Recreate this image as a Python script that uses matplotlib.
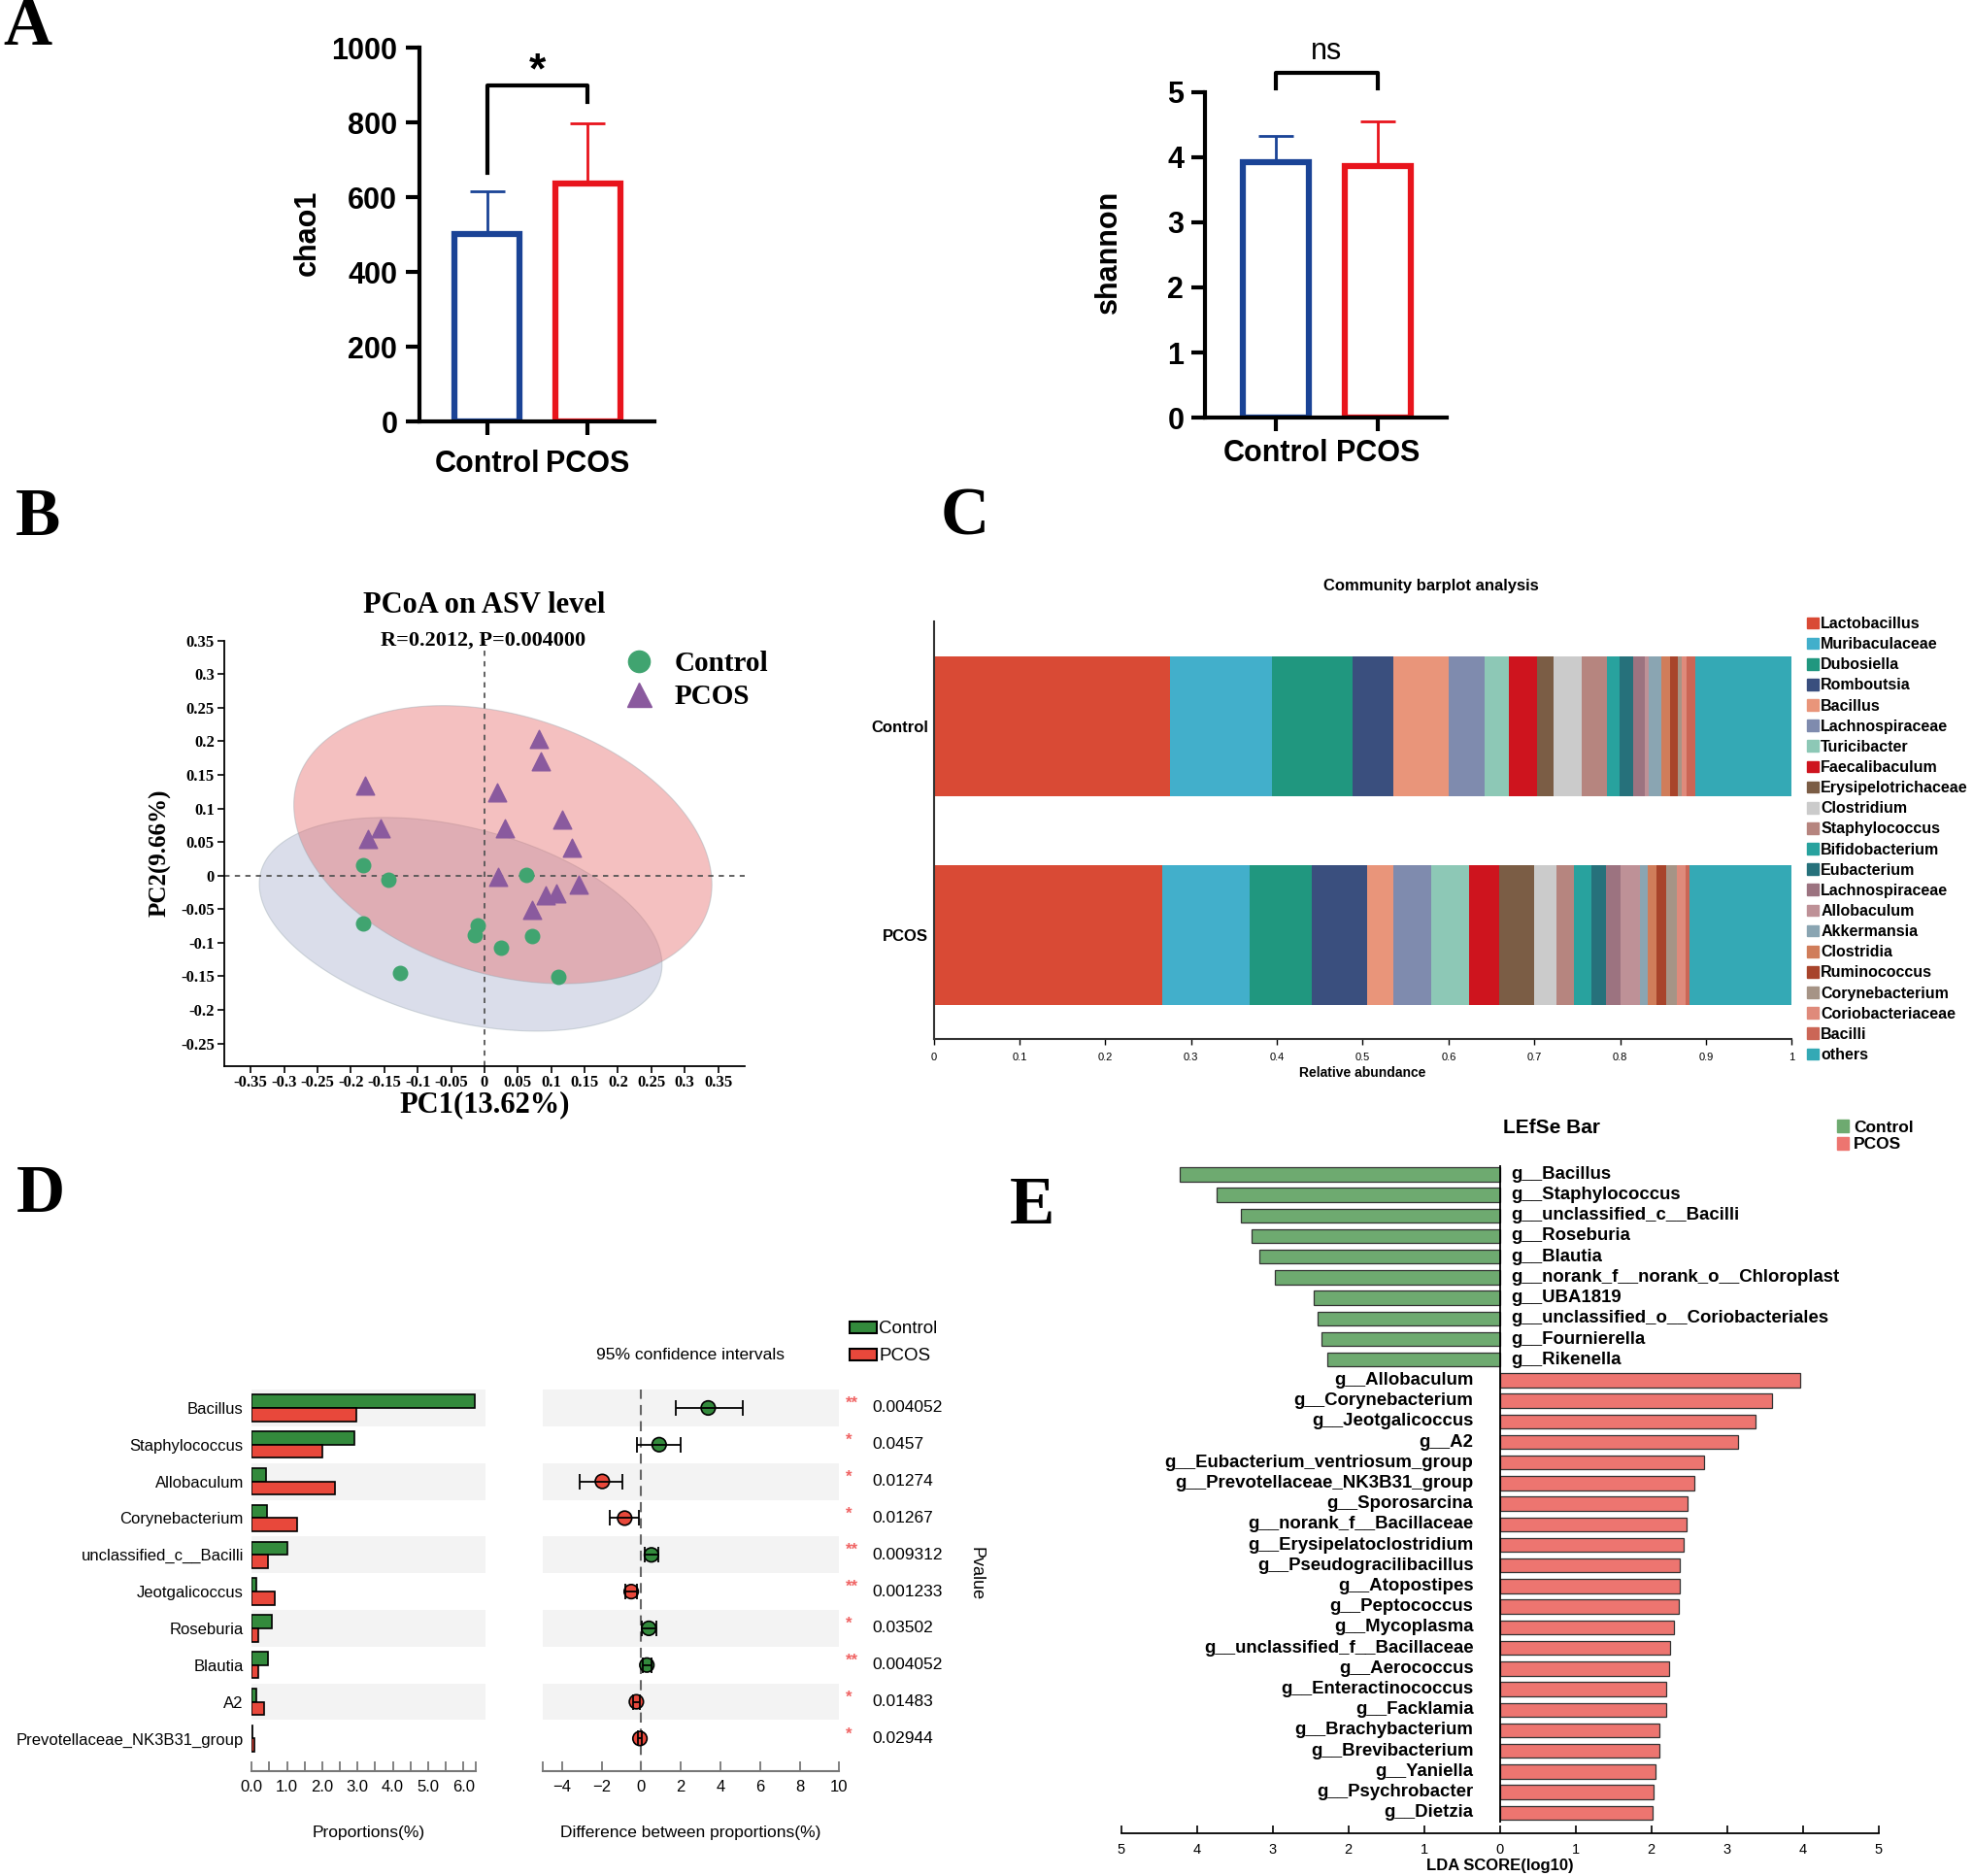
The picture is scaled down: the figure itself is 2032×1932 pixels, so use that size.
import numpy as np
import matplotlib
matplotlib.use("Agg")
import matplotlib.pyplot as plt
from matplotlib.patches import Patch
from matplotlib.lines import Line2D

SANS = ['Liberation Sans', 'DejaVu Sans']
SERIF = ['Liberation Serif', 'DejaVu Serif']
plt.rcParams['font.family'] = SANS

# ---- A: alpha diversity
groups = ["Control", "PCOS"]
group_colors = ["#1a4396", "#e8141c"]
chao1_mean = [503, 638]
chao1_err = [114, 160]
shannon_mean = [3.92, 3.86]
shannon_err = [0.41, 0.68]

# ---- B: PCoA
ctrl_pc1 = [-0.181, -0.144, -0.181, -0.126, -0.010, -0.014, 0.025, 0.062, 0.072, 0.110]
ctrl_pc2 = [0.016, -0.006, -0.071, -0.145, -0.074, -0.089, -0.107, 0.001, -0.090, -0.151]
pcos_pc1 = [-0.179, -0.155, -0.174, 0.082, 0.085, 0.019, 0.030, 0.116, 0.131, 0.021, 0.141, 0.091, 0.107, 0.072]
pcos_pc2 = [0.134, 0.070, 0.055, 0.203, 0.170, 0.124, 0.070, 0.084, 0.041, -0.002, -0.014, -0.030, -0.027, -0.051]
# ellipse: centre x, centre y, half width, y offset at right end, half height
ctrl_ellipse = [-0.0356, -0.0725, 0.3015, -0.060, 0.159]
pcos_ellipse = [0.0276, 0.046, 0.313, -0.0593, 0.207]

# ---- C: community barplot
genus = ["Lactobacillus", "Muribaculaceae", "Dubosiella", "Romboutsia", "Bacillus",
         "Lachnospiraceae", "Turicibacter", "Faecalibaculum", "Erysipelotrichaceae",
         "Clostridium", "Staphylococcus", "Bifidobacterium", "Eubacterium",
         "Lachnospiraceae", "Allobaculum", "Akkermansia", "Clostridia", "Ruminococcus",
         "Corynebacterium", "Coriobacteriaceae", "Bacilli", "others"]
genus_colors = ["#d94a35", "#42afcb", "#20977f", "#3a4f7e", "#e9957a", "#7f8bae",
                "#8dc8b6", "#ce141e", "#7b5d45", "#cbcbcb", "#b6857f", "#28a29e",
                "#26717b", "#9c7380", "#be9197", "#8aa5b2", "#d07d5a", "#a8442b",
                "#a69486", "#df8a7b", "#cb6656", "#34a9b5"]
abund_ctrl = [0.2759, 0.1185, 0.0941, 0.0475, 0.0636, 0.0422, 0.0282, 0.0326, 0.0203,
              0.0319, 0.0293, 0.0157, 0.0158, 0.0135, 0.0045, 0.0139, 0.0105, 0.0097,
              0.0042, 0.0060, 0.0097, 0.1124]
abund_pcos = [0.2663, 0.1023, 0.0721, 0.0648, 0.0301, 0.0441, 0.0437, 0.0358, 0.0408,
              0.0263, 0.0199, 0.0206, 0.0165, 0.0173, 0.0229, 0.0082, 0.0109, 0.0109,
              0.0127, 0.0105, 0.0045, 0.1188]

# ---- D: STAMP
stamp_taxa = ["Bacillus", "Staphylococcus", "Allobaculum", "Corynebacterium",
              "unclassified_c__Bacilli", "Jeotgalicoccus", "Roseburia", "Blautia", "A2",
              "Prevotellaceae_NK3B31_group"]
stamp_ctrl = [6.33, 2.90, 0.40, 0.43, 1.01, 0.14, 0.58, 0.47, 0.13, 0.02]
stamp_pcos = [2.97, 1.99, 2.35, 1.28, 0.47, 0.65, 0.19, 0.19, 0.35, 0.09]
stamp_diff = [3.38, 0.90, -1.97, -0.84, 0.51, -0.51, 0.38, 0.28, -0.25, -0.07]
ci_low = [1.74, -0.20, -3.13, -1.57, 0.18, -0.80, 0.02, 0.05, -0.44, -0.16]
ci_high = [5.11, 2.00, -0.97, -0.10, 0.84, -0.21, 0.77, 0.51, -0.08, 0.01]
stamp_p = ["0.004052", "0.0457", "0.01274", "0.01267", "0.009312", "0.001233",
           "0.03502", "0.004052", "0.01483", "0.02944"]
stamp_sig = ["**", "*", "*", "*", "**", "**", "*", "**", "*", "*"]
stamp_max = 6.34

# ---- E: LEfSe
lefse_ctrl = ["g__Bacillus", "g__Staphylococcus", "g__unclassified_c__Bacilli",
              "g__Roseburia", "g__Blautia", "g__norank_f__norank_o__Chloroplast",
              "g__UBA1819", "g__unclassified_o__Coriobacteriales", "g__Fournierella",
              "g__Rikenella"]
lda_ctrl = [4.23, 3.74, 3.42, 3.28, 3.17, 2.97, 2.46, 2.41, 2.35, 2.28]
lefse_pcos = ["g__Allobaculum", "g__Corynebacterium", "g__Jeotgalicoccus", "g__A2",
              "g__Eubacterium_ventriosum_group", "g__Prevotellaceae_NK3B31_group",
              "g__Sporosarcina", "g__norank_f__Bacillaceae", "g__Erysipelatoclostridium",
              "g__Pseudogracilibacillus", "g__Atopostipes", "g__Peptococcus",
              "g__Mycoplasma", "g__unclassified_f__Bacillaceae", "g__Aerococcus",
              "g__Enteractinococcus", "g__Facklamia", "g__Brachybacterium",
              "g__Brevibacterium", "g__Yaniella", "g__Psychrobacter", "g__Dietzia"]
lda_pcos = [3.97, 3.59, 3.37, 3.14, 2.69, 2.57, 2.48, 2.47, 2.43, 2.38, 2.38, 2.36,
            2.30, 2.25, 2.23, 2.19, 2.19, 2.11, 2.10, 2.05, 2.03, 2.02]

W, H = 1568, 1491  # layout measured on a 1568x1491 view


def box(x0, y0, x1, y1):
    return [x0 / W, 1 - y1 / H, (x1 - x0) / W, (y1 - y0) / H]


def fmt(v):
    return "0" if abs(v) < 1e-9 else f"{v:g}"


fig = plt.figure(figsize=(20.32, 19.32), dpi=100)

# panel letters
for letter, (lx, ly) in zip("ABCDE", [(22, 22), (30, 412), (767, 412), (32, 950), (820, 959)]):
    fig.text(lx / W, 1 - ly / H, letter, family=SERIF, weight='bold', fontsize=50,
             ha='center', va='center')


def bar_panel(ax, means, errs, yticks, ylabel, lab_xy, xlim, xpad):
    for i in range(2):
        ax.errorbar(i, means[i], yerr=[[0], [errs[i]]], color=group_colors[i], lw=2,
                    capsize=13, capthick=2, zorder=1)
        ax.bar(i, means[i], width=0.64, facecolor='white', edgecolor=group_colors[i],
               lw=4.5, zorder=2)
    ax.set_xlim(xlim)
    ax.set_ylim(yticks[0], yticks[-1])
    ax.set_yticks(yticks, [str(v) for v in yticks], fontsize=22, fontweight='bold')
    ax.set_xticks([0, 1], groups, fontsize=22, fontweight='bold')
    ax.spines[['top', 'right']].set_visible(False)
    ax.spines[['left', 'bottom']].set_linewidth(3)
    ax.tick_params(width=3, length=10, pad=6)
    ax.tick_params(axis='x', pad=xpad)
    ax.set_ylabel(ylabel, fontsize=22, fontweight='bold')
    ax.yaxis.set_label_coords(*lab_xy)


axA1 = fig.add_axes(box(333, 38, 520, 335))
bar_panel(axA1, chao1_mean, chao1_err, [0, 200, 400, 600, 800, 1000], "chao1",
          (-0.41, 0.505), (-0.675, 1.66), 11)
axA1.plot([0, 0, 1, 1], [665, 899, 899, 856], color='black', lw=3, clip_on=False)
axA1.text(0.5, 935, "*", fontsize=32, fontweight='bold', ha='center', va='center')

axA2 = fig.add_axes(box(958, 73, 1150, 332))
bar_panel(axA2, shannon_mean, shannon_err, [0, 1, 2, 3, 4, 5], "shannon",
          (-0.34, 0.51), (-0.69, 1.68), 6)
axA2.plot([0, 0, 1, 1], [5.05, 5.29, 5.29, 5.05], color='black', lw=3, clip_on=False)
axA2.text(0.5, 5.62, "ns", fontsize=22, ha='center', va='center')

# ---- B
axB = fig.add_axes(box(178, 509, 592, 847))
t = np.linspace(0, 2 * np.pi, 300)
for ell, col in [(ctrl_ellipse, '#a9b0cd'), (pcos_ellipse, '#e66b6b')]:
    cx, cy, xe, r, ye = ell
    ex = cx + xe * np.cos(t)
    ey = cy + r * np.cos(t) + np.sqrt(ye ** 2 - r ** 2) * np.sin(t)
    axB.fill(ex, ey, facecolor=col, alpha=0.42, edgecolor='#9aa8b0', lw=0.8)
axB.axhline(0, color='#555555', lw=1.3, ls=(0, (3, 3)))
axB.axvline(0, color='#555555', lw=1.3, ls=(0, (3, 3)))
axB.scatter(ctrl_pc1, ctrl_pc2, s=110, marker='o', color='#40a470', zorder=3)
axB.scatter(pcos_pc1, pcos_pc2, s=180, marker='^', color='#8a5a9e', zorder=3)
axB.set_xlim(-0.39, 0.39)
axB.set_ylim(-0.283, 0.35)
xt = np.round(np.arange(-0.35, 0.351, 0.05), 2)
yt = np.round(np.arange(-0.25, 0.351, 0.05), 2)
axB.set_xticks(xt, [fmt(v) for v in xt], family=SERIF, fontweight='bold', fontsize=12)
axB.set_yticks(yt, [fmt(v) for v in yt], family=SERIF, fontweight='bold', fontsize=12)
axB.tick_params(length=5, width=1.2, pad=2)
axB.spines[['top', 'right']].set_visible(False)
axB.spines[['left', 'bottom']].set_linewidth(1.3)
axB.set_xlabel("PC1(13.62%)", family=SERIF, fontweight='bold', fontsize=22, labelpad=0)
axB.set_ylabel("PC2(9.66%)", family=SERIF, fontweight='bold', fontsize=18, labelpad=7)
axB.text(0.5, 1.083, "PCoA on ASV level", transform=axB.transAxes, family=SERIF,
         fontweight='bold', fontsize=22, ha='center', va='center')
axB.text(0.498, 1.0, "R=0.2012, P=0.004000", transform=axB.transAxes, family=SERIF,
         fontweight='bold', fontsize=16, ha='center', va='center')
hB = [Line2D([], [], ls='', marker='o', ms=16, color='#40a470'),
      Line2D([], [], ls='', marker='^', ms=18, color='#8a5a9e')]
axB.legend(hB, groups, loc='upper left', bbox_to_anchor=(0.756, 0.975), frameon=False,
           prop={'family': SERIF, 'weight': 'bold', 'size': 21}, handlelength=1.5,
           handletextpad=0.5, labelspacing=0.24, borderaxespad=0, borderpad=0)

# ---- C
axC = fig.add_axes(box(742, 494, 1424, 826))
left_c = np.concatenate([[0], np.cumsum(abund_ctrl)[:-1]])
left_p = np.concatenate([[0], np.cumsum(abund_pcos)[:-1]])
handles_c = []
for i in range(len(genus)):
    axC.barh([1, 0], [abund_ctrl[i], abund_pcos[i]], left=[left_c[i], left_p[i]],
             height=0.67, color=genus_colors[i], edgecolor='none')
    handles_c.append(Patch(color=genus_colors[i]))
axC.set_xlim(0, 1)
axC.set_ylim(-0.5, 1.5)
xc = np.round(np.arange(0, 1.01, 0.1), 1)
axC.set_xticks(xc, [fmt(v) for v in xc], fontsize=8)
axC.set_yticks([1, 0], groups, fontsize=12, fontweight='bold')
axC.tick_params(axis='y', length=0, pad=4)
axC.tick_params(axis='x', length=4, width=1, pad=6)
axC.spines[['top', 'right']].set_visible(False)
axC.spines[['left', 'bottom']].set_color('#333333')
axC.spines[['left', 'bottom']].set_linewidth(1.5)
axC.set_xlabel("Relative abundance", fontsize=10, fontweight='bold', labelpad=3)
axC.text(0.58, 1.084, "Community barplot analysis", transform=axC.transAxes,
         fontsize=12, fontweight='bold', ha='center', va='center')
fig.legend(handles_c, genus, loc='upper left', bbox_to_anchor=(1436 / W, 1 - 490 / H),
           frameon=False, prop={'weight': 'bold', 'size': 11.5}, handlelength=0.75,
           handleheight=0.75, handletextpad=0.15, labelspacing=0.385, borderpad=0,
           borderaxespad=0)

# ---- D
green_d, red_d = '#338a3c', '#e8483b'
rows = np.arange(len(stamp_taxa))
axD1 = fig.add_axes(box(200, 1104.4, 386, 1408))
axD2 = fig.add_axes(box(431, 1104.4, 667, 1408))
for ax in (axD1, axD2):
    for r in rows[::2]:
        ax.axhspan(r - 0.5, r + 0.5, color='#f3f3f3', lw=0, zorder=0)
    ax.set_ylim(9.9, -0.5)
    ax.spines[['top', 'right', 'left']].set_visible(False)
    ax.spines['bottom'].set_color('#777777')
    ax.spines['bottom'].set_linewidth(1.5)
    ax.tick_params(axis='x', which='both', direction='in', length=7, width=1.3,
                   color='#777777', labelsize=12, pad=6)

axD1.barh(rows - 0.18, stamp_ctrl, height=0.36, color=green_d, edgecolor='black', lw=1.2)
axD1.barh(rows + 0.18, stamp_pcos, height=0.36, color=red_d, edgecolor='black', lw=1.2)
axD1.set_xlim(0, 6.63)
axD1.spines['bottom'].set_bounds(0, stamp_max)
axD1.set_xticks(np.arange(0, 7, 1.0), [f"{v:.1f}" for v in np.arange(0, 7, 1.0)])
axD1.set_xticks(list(np.arange(0.5, 6, 1.0)) + [stamp_max], minor=True)
axD1.set_yticks(rows, stamp_taxa, fontsize=12)
axD1.tick_params(axis='y', length=0, pad=6)
axD1.set_xlabel("Proportions(%)", fontsize=12.5, labelpad=23)

axD2.axvline(0, color='#666666', lw=1.5, ls=(0, (5, 3)), zorder=1)
dot_cols = [green_d if d > 0 else red_d for d in stamp_diff]
axD2.scatter(stamp_diff, rows, s=110, c=dot_cols, edgecolors='black', lw=1.2, zorder=3)
axD2.errorbar(stamp_diff, rows,
              xerr=[np.array(stamp_diff) - np.array(ci_low), np.array(ci_high) - np.array(stamp_diff)],
              fmt='none', ecolor='black', elinewidth=1.3, capsize=6, capthick=1.3, zorder=4)
axD2.set_xlim(-5, 10)
axD2.set_xticks(np.arange(-4, 11, 2))
axD2.set_xticks([-5], minor=True)
axD2.set_yticks([])
axD2.set_xlabel("Difference between proportions(%)", fontsize=12.5, labelpad=23)
for r in rows:
    axD2.text(10.3, r - 0.12, stamp_sig[r], color='#f06464', fontsize=12, fontweight='bold',
              ha='left', va='center', clip_on=False)
    axD2.text(11.66, r, stamp_p[r], fontsize=12.5, ha='left', va='center', clip_on=False)
axD2.text(16.9, 4.5, "Pvalue", fontsize=13, rotation=-90, ha='center', va='center',
          clip_on=False)
axD2.text(0.5, 1.09, "95% confidence intervals", transform=axD2.transAxes, fontsize=12.5,
          ha='center', va='center')
hD = [Patch(facecolor=green_d, edgecolor='black', lw=1.5),
      Patch(facecolor=red_d, edgecolor='black', lw=1.5)]
axD2.legend(hD, groups, loc='upper left', bbox_to_anchor=(1.035, 1.18), frameon=False,
            fontsize=13.5, handlelength=1.5, handleheight=0.6, handletextpad=0.1,
            labelspacing=0.6, borderaxespad=0, borderpad=0)

# ---- E
green_e, red_e = '#6eaa70', '#ed7570'
axE = fig.add_axes(box(891, 923.5, 1493, 1457))
n_c = len(lefse_ctrl)
pos_c = np.arange(n_c)
pos_p = np.arange(n_c, n_c + len(lefse_pcos))
axE.barh(pos_c, -np.array(lda_ctrl), height=0.68, color=green_e, edgecolor='#333333', lw=0.9)
axE.barh(pos_p, lda_pcos, height=0.68, color=red_e, edgecolor='#333333', lw=0.9)
for p, name in zip(pos_c, lefse_ctrl):
    axE.text(0.15, p, name, fontsize=13.4, fontweight='bold', ha='left', va='center')
for p, name in zip(pos_p, lefse_pcos):
    axE.text(-0.35, p, name, fontsize=13.4, fontweight='bold', ha='right', va='center')
axE.vlines(0, -0.45, pos_p[-1] + 0.5, color='black', lw=1.3)
axE.set_xlim(-5, 5)
axE.set_ylim(pos_p[-1] + 1.0, -0.6)
axE.set_xticks(np.arange(-5, 6), [str(abs(v)) for v in range(-5, 6)], fontsize=10.5)
axE.set_yticks([])
axE.spines[['top', 'right', 'left']].set_visible(False)
axE.spines['bottom'].set_linewidth(1.3)
axE.tick_params(axis='x', direction='in', length=6, width=1.2, pad=7)
axE.set_xlabel("LDA SCORE(log10)", fontsize=12, fontweight='bold', labelpad=2)
axE.text(0.568, 1.0515, "LEfSe Bar", transform=axE.transAxes, fontsize=15,
         fontweight='bold', ha='center', va='center')
hE = [Patch(color=green_e), Patch(color=red_e)]
axE.legend(hE, groups, loc='upper left', bbox_to_anchor=(0.945, 1.063), frameon=False,
           prop={'weight': 'bold', 'size': 12.5}, handlelength=0.7, handleheight=0.8,
           handletextpad=0.3, labelspacing=0.1, borderaxespad=0, borderpad=0)

fig.savefig("out.png", dpi=100)
